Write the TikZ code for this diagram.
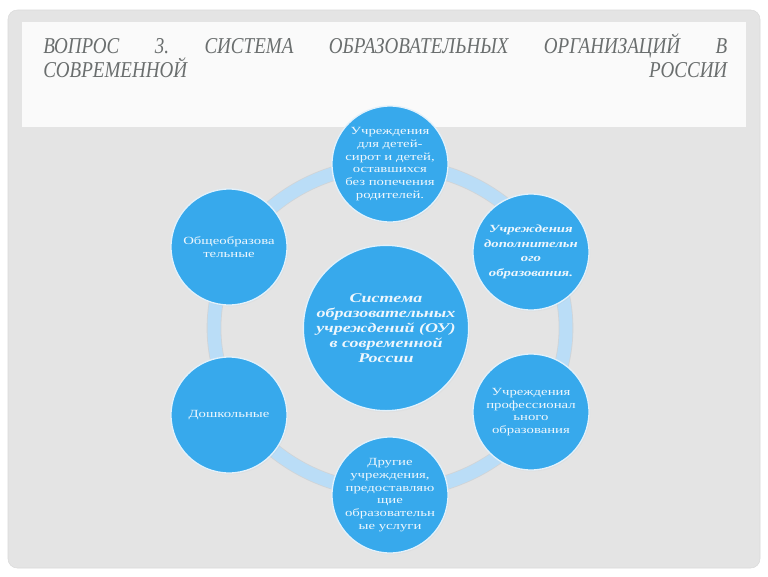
\documentclass[tikz,border=0pt]{standalone}
\usepackage{fontspec}
\usepackage{graphicx}
\setmainfont{Liberation Serif}
\newfontfamily\circlefont[FakeStretch=1.35]{Liberation Serif}
\newcommand{\headline}[1]{\scalebox{0.84}[1]{\makebox[610.7pt][s]{#1}}}
\usetikzlibrary{shadows}

\begin{document}
\frenchspacing
\begin{tikzpicture}[x=0.75pt,y=0.75pt,yscale=-1,xscale=1,
	unit/.style={circle, fill={rgb, 255:red, 55; green, 169; blue, 236 }, draw={rgb, 255:red, 226; green, 241; blue, 251 }, line width=1pt,
		minimum size=87pt, inner sep=0pt, align=center, text={rgb, 255:red, 238; green, 247; blue, 253 },
		font=\circlefont\fontsize{8.2}{9.5}\selectfont,
		circular drop shadow={shadow xshift=0.5pt, shadow yshift=-0.8pt, opacity=0.3, shadow scale=1.01}},
	hub/.style={unit, minimum size=124pt, font=\circlefont\fontsize{10}{11.3}\selectfont\bfseries\itshape},
	ring/.style={draw={rgb, 255:red, 186; green, 221; blue, 247 }, line width=9.75pt},
	heading/.style={anchor=base west, inner sep=0pt, text={rgb, 255:red, 106; green, 110; blue, 110 }, font=\fontsize{17}{18}\selectfont\itshape}
	]
	\useasboundingbox (0,0) rectangle (768,576);
	\fill [white] (0,0) rectangle (768,576);
	
	%Slide background
	\draw [fill={rgb, 255:red, 228; green, 228; blue, 228 }, draw={rgb, 255:red, 218; green, 218; blue, 218 }, rounded corners=7pt] (8,10) rectangle (760,568);
	%Title band
	\fill [color={rgb, 255:red, 250; green, 250; blue, 250 }] (22,22) rectangle (746,127);
	
	% Title
	\node [heading] (titlea) at (43,53) {\headline{ВОПРОС 3. СИСТЕМА ОБРАЗОВАТЕЛЬНЫХ ОРГАНИЗАЦИЙ В}};
	\node [heading] (titleb) at (43,77) {\headline{СОВРЕМЕННОЙ РОССИИ}};
	
	%Ring
	\draw [draw={rgb, 255:red, 150; green, 165; blue, 180 }, draw opacity=0.25, line width=11pt] (390,328) ellipse [x radius=176, y radius=163];
	\draw [ring] (390,328) ellipse [x radius=176, y radius=163];
	
	% Circles
	\node [unit] (orphans) at (390,164) {Учреждения\\для детей-\\сирот и детей,\\оставшихся\\без попечения\\родителей.};
	\node [unit, font=\circlefont\fontsize{8.2}{10.9}\selectfont\bfseries\itshape] (extra) at (531,252) {Учреждения\\дополнительн\\ого\\образования.};
	\node [unit] (general) at (229,247) {Общеобразова\\тельные};
	\node [unit] (preschool) at (229,415) {Дошкольные};
	\node [unit] (vocational) at (531,412) {Учреждения\\профессионал\\ьного\\образования};
	\node [unit] (other) at (390,495) {Другие\\учреждения,\\предоставляю\\щие\\образовательн\\ые услуги};
	\node [hub] (system) at (386,328) {Система\\образовательных\\учреждений (ОУ)\\в современной\\России};
	
\end{tikzpicture}
\end{document}
